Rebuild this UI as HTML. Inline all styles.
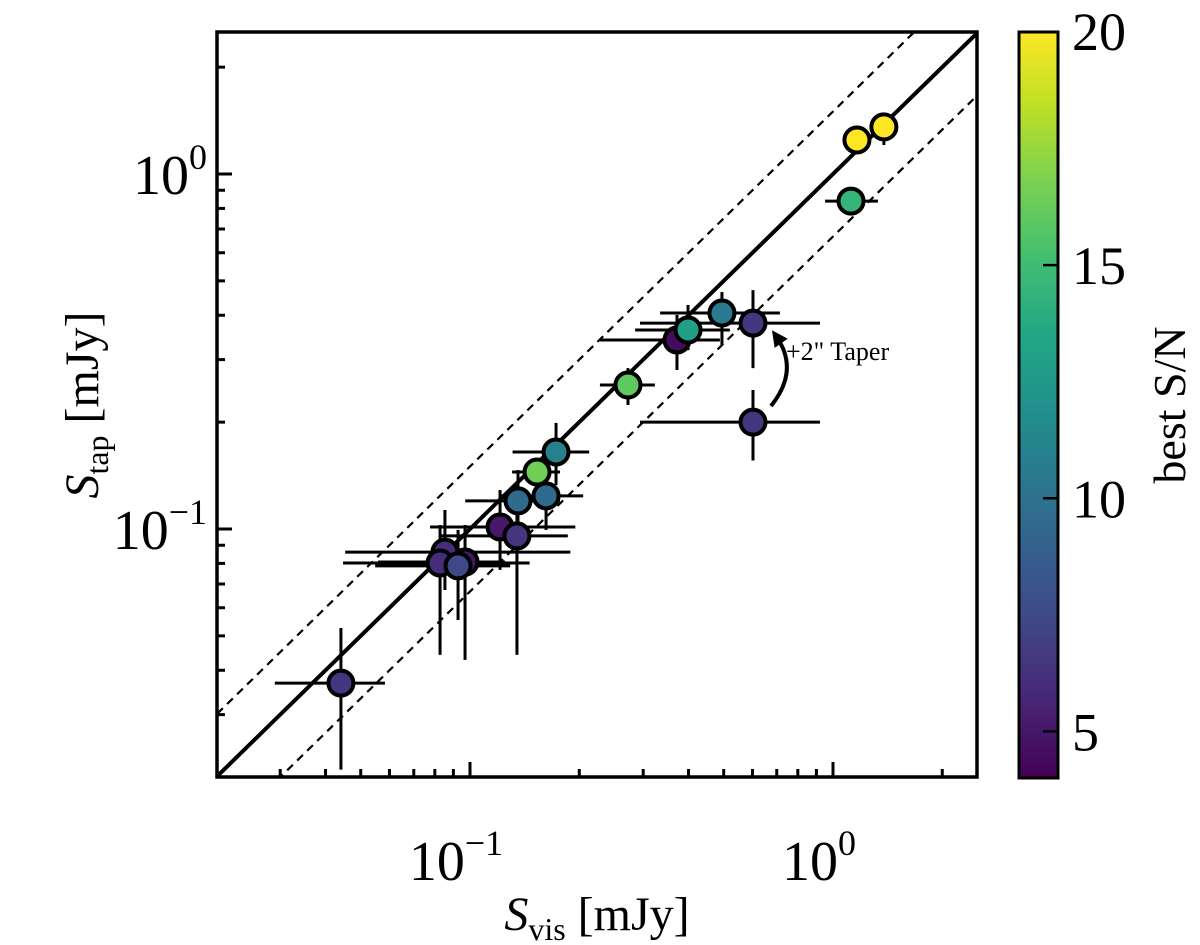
<!DOCTYPE html>
<html><head><meta charset="utf-8"><style>
html,body{margin:0;padding:0;background:#fff}
svg{display:block;font-family:'Liberation Serif',serif}
text,tspan{font-family:'Liberation Serif',serif}
</style></head><body>
<svg id="chart" width="1200" height="945" viewBox="0 0 1200 945" xmlns="http://www.w3.org/2000/svg">
<defs>
<linearGradient id="vir" x1="0" y1="1" x2="0" y2="0">
<stop offset="0" stop-color="#440154"/><stop offset="0.1" stop-color="#482475"/><stop offset="0.2" stop-color="#414487"/><stop offset="0.3" stop-color="#355f8d"/><stop offset="0.4" stop-color="#2a788e"/><stop offset="0.5" stop-color="#21918c"/><stop offset="0.6" stop-color="#22a884"/><stop offset="0.7" stop-color="#44bf70"/><stop offset="0.8" stop-color="#7ad151"/><stop offset="0.9" stop-color="#bddf26"/><stop offset="1" stop-color="#fde725"/>
</linearGradient>
<clipPath id="clip"><rect x="217" y="32" width="760" height="745"/></clipPath>
<marker id="ah" markerWidth="16" markerHeight="16" refX="9" refY="8" orient="auto" markerUnits="userSpaceOnUse"><path d="M0,0 L16,8 L0,16 z" fill="#000"/></marker>
</defs>
<g id="lines" clip-path="url(#clip)"></g>
<g id="errs" clip-path="url(#clip)"></g>
<g id="pts"></g>
<g id="axes"></g>
<path d="M771,406 Q800,370 776,336" fill="none" stroke="#000" stroke-width="4" marker-end="url(#ah)"/>
<text x="786" y="360" font-size="26">+2" Taper</text>
<rect x="217" y="32" width="760" height="745" fill="none" stroke="#000" stroke-width="3.5"/>
<text x="597" y="930" font-size="48" text-anchor="middle"><tspan font-style="italic">S</tspan><tspan font-size="32" dy="10">vis</tspan><tspan dy="-10"> [mJy]</tspan></text>
<text transform="translate(98,405) rotate(-90)" font-size="48" text-anchor="middle"><tspan font-style="italic">S</tspan><tspan font-size="32" dy="10">tap</tspan><tspan dy="-10"> [mJy]</tspan></text>
<rect x="1019" y="32" width="39" height="746" fill="url(#vir)" stroke="#000" stroke-width="3"/>
<g id="cbar"></g>
<text transform="translate(1185,405) rotate(-90)" font-size="46" text-anchor="middle">best S/N</text>
<script>
const xVals=[0.0441,0.1726,0.153,0.1356,0.162,0.121,0.1347,0.0853,0.0827,0.0969,0.0927,0.2724,0.3717,0.3987,0.4944,0.602,0.602,1.121,1.164,1.381];
const yVals=[0.0368,0.1648,0.1447,0.120,0.124,0.1013,0.0956,0.0861,0.0802,0.0807,0.0787,0.2545,0.3407,0.3636,0.4058,0.3802,0.200,0.839,1.247,1.357];
const xLo=[0.029,0.131,0.1306,0.097,0.121,0.0776,0.0827,0.0453,0.0447,0.0558,0.0548,0.228,0.228,0.285,0.334,0.294,0.294,0.951,1.114,1.33];
const xHi=[0.0583,0.213,0.177,0.177,0.205,0.195,0.186,0.189,0.146,0.1249,0.129,0.323,0.488,0.520,0.714,0.921,0.921,1.33,1.225,1.454];
const yLo=[0.0210,0.133,0.121,0.0994,0.0994,0.0767,0.0442,0.0673,0.0442,0.0428,0.0554,0.2235,0.2805,0.319,0.330,0.284,0.156,0.766,1.169,1.207];
const yHi=[0.0526,0.199,0.156,0.1466,0.1374,0.1288,0.1169,0.1131,0.1026,0.1026,0.0994,0.284,0.401,0.4276,0.465,0.471,0.2464,0.901,1.33,1.438];
const snr=[6.5,11,16.5,9.5,9.5,5,6.5,6,6,5,7.5,16,4.5,13,10.5,6.5,6.5,14.5,20,20];
const cbTicks=[5,10,15,20];
const xMajor=[0.1,1];
const yMajor=[0.1,1];
const majorExp=['−1','0'];
const ratio=1.5;
const NS='http://www.w3.org/2000/svg';
const X=v=>470+363*Math.log10(v/0.1);
const Y=v=>529-355*Math.log10(v/0.1);
const C=v=>778-(v-4)/(20-4)*746;
const vir=['#440154','#482475','#414487','#355f8d','#2a788e','#21918c','#22a884','#44bf70','#7ad151','#bddf26','#fde725'];
function h2r(h){return [1,3,5].map(i=>parseInt(h.substr(i,2),16));}
function cmap(v){let t=Math.max(0,Math.min(1,(v-4)/16))*10;let i=Math.min(9,Math.floor(t)),f=t-i;let a=h2r(vir[i]),b=h2r(vir[i+1]);return 'rgb('+a.map((c,k)=>Math.round(c+(b[k]-c)*f)).join(',')+')';}
function mk(tag,attrs,parent){const e=document.createElementNS(NS,tag);for(const k in attrs)e.setAttribute(k,attrs[k]);parent.appendChild(e);return e;}
const lines=document.getElementById('lines');
[[1,'none',4],[ratio,'8,6',2.2],[1/ratio,'8,6',2.2]].forEach((r,i)=>{
  const l=mk('line',{x1:X(0.01),y1:Y(0.01*r[0]),x2:X(5),y2:Y(5*r[0]),stroke:'#000','stroke-width':r[2],'stroke-dasharray':r[1]},lines);
  
  
});
const errs=document.getElementById('errs'),pts=document.getElementById('pts');
xVals.forEach((x,i)=>{
  const y=yVals[i];
  const eh=mk('line',{x1:X(xLo[i]),y1:Y(y),x2:X(xHi[i]),y2:Y(y),stroke:'#000','stroke-width':3},errs);
  
  
  const ev=mk('line',{x1:X(x),y1:Y(yLo[i]),x2:X(x),y2:Y(yHi[i]),stroke:'#000','stroke-width':3},errs);
  
  
});
xVals.forEach((x,i)=>{
  const c=mk('circle',{cx:X(x),cy:Y(yVals[i]),r:12.5,fill:cmap(snr[i]),stroke:'#000','stroke-width':4},pts);
  
  
});
const ax=document.getElementById('axes');
function tickX(v,len){const t=mk('line',{x1:X(v),y1:777,x2:X(v),y2:777-len,stroke:'#000','stroke-width':3},ax);}
function tickY(v,len){const t=mk('line',{x1:217,y1:Y(v),x2:217+len,y2:Y(v),stroke:'#000','stroke-width':3},ax);}
[0.01,0.1,1].forEach(d=>{for(let k=2;k<=9;k++){const v=d*k;if(X(v)>218&&X(v)<976)tickX(v,8);if(Y(v)>33&&Y(v)<776)tickY(v,8);}});
function powLabel(parent,x,y,anchor,exp,name){
  const t=mk('text',{x:x,y:y,'font-size':56,'text-anchor':anchor},parent);
  
  
  const a=mk('tspan',{},t);a.textContent='10';
  const b=mk('tspan',{'font-size':36,dy:-25},t);b.textContent=exp;
}
xMajor.forEach((v,i)=>{tickX(v,15);powLabel(ax,X(v)-14,880,'middle',majorExp[i],'x-tick-label');});
yMajor.forEach((v,i)=>{tickY(v,15);powLabel(ax,207,Y(v)+20,'end',majorExp[i],'y-tick-label');});
const cb=document.getElementById('cbar');
cbTicks.forEach(v=>{
  const l=mk('line',{x1:1043,y1:C(v),x2:1058,y2:C(v),stroke:'#000','stroke-width':2.5},cb);
  
  
  const t=mk('text',{x:1072,y:C(v)+(v==20?18:19),'font-size':54},cb);
  
  
  t.textContent=v;
});
</script>
</svg>
</body></html>
